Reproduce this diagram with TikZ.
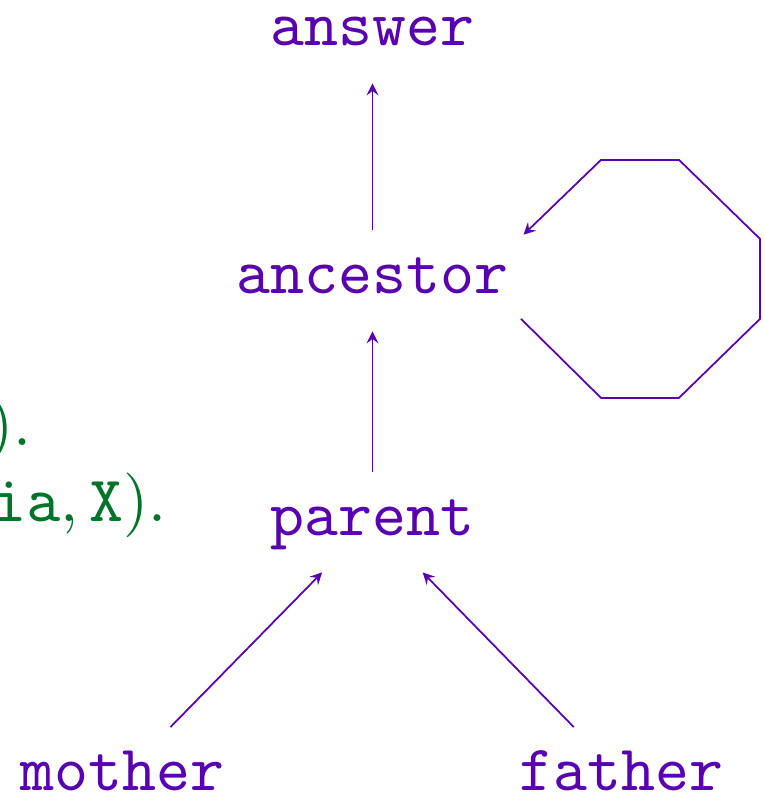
\documentclass[tikz,border=0pt]{standalone}
\usepackage{graphicx}
\definecolor{rulepurple}{RGB}{88,0,176}
\definecolor{proggreen}{RGB}{0,115,42}
\newcommand\bigtext[1]{\scalebox{1.84}{#1}}
\begin{document}
\begin{tikzpicture}[-,>=stealth,shorten >=1pt,auto,node distance=2.45cm,
    draw=rulepurple,line width=0.5pt,
    main node/.style={inner sep=0pt,text height=0.62cm,text depth=0.34cm,text=rulepurple,font=\ttfamily},
    prog line/.style={anchor=base east,inner sep=0pt,text=proggreen}]

		\useasboundingbox (0,0) rectangle (7.64,-7.96);

		\node (1) [main node, anchor=base] at (3.725,-0.45) {\bigtext{answer}};
		\node (2) [main node, below of = 1, node distance=2.48cm]{\bigtext{ancestor}};
		\node (3) [main node, below of = 2, node distance=2.42cm]{\bigtext{parent}};
		\node (4) [main node, below of = 3, node distance=2.55cm, xshift=-2.5cm]{\bigtext{mother}};
		\node (5) [main node, below of = 3, node distance=2.55cm, xshift=2.49cm]{\bigtext{father}};

		% cut off program text on the left
		\node (p2) [prog line] at (0.32,-4.45) {\bigtext{$).$}};
		\node (p3) [prog line] at (1.67,-5.21) {\bigtext{$\mathtt{ia}, \mathtt{X}).$}};

		\draw[->] (2) to (1);
		\draw[->] (3) to (2);
		\draw[->] (4) to (3);
		\draw[->] (5) to (3);
		\draw[->] ([shift={(1.485,0.09)}]2.south) -- ++(0.8,-0.79) -- ++(0.78,0)
			-- ++(0.81,0.79) -- ++(0,0.8) -- ++(-0.81,0.79) -- ++(-0.78,0)
			-- ([shift={(1.485,-0.07)}]2.north);

		;
	\end{tikzpicture}
\end{document}
